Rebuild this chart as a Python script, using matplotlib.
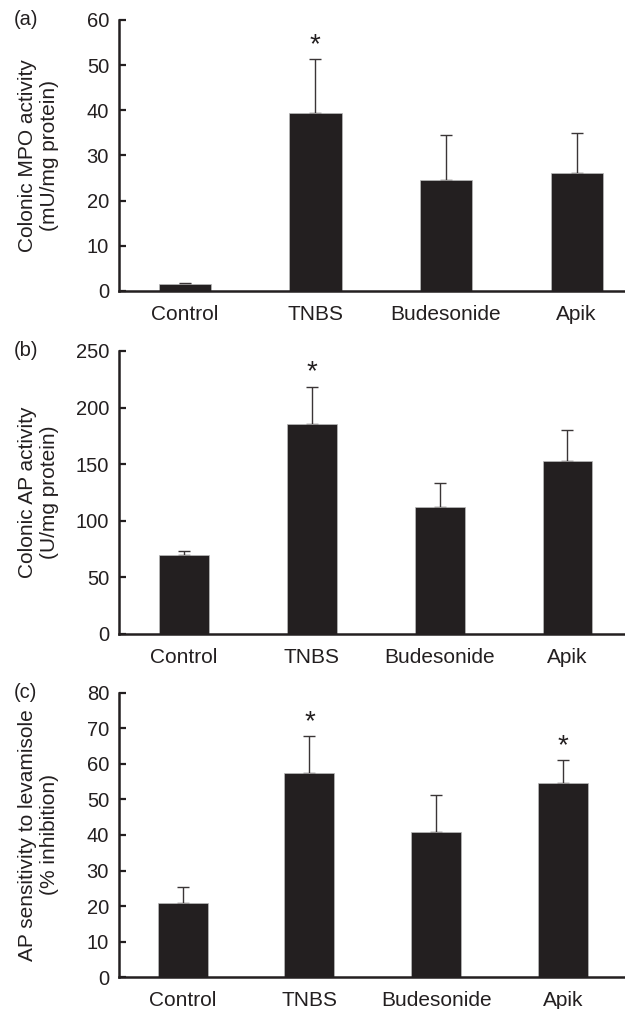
import matplotlib
matplotlib.use("Agg")
import matplotlib.pyplot as plt

plt.rcParams['font.family'] = ['Liberation Sans', 'DejaVu Sans']

groups = ["Control", "TNBS", "Budesonide", "Apik"]

# (a) colonic MPO activity
mpo_mean = [1.6, 39.4, 24.6, 26.2]
mpo_sem = [0.2, 12.0, 10.0, 8.8]
mpo_star = [False, True, False, False]

# (b) colonic AP activity
ap_mean = [70, 185.5, 112, 153]
ap_sem = [3, 33, 21, 27.5]
ap_star = [False, True, False, False]

# (c) AP sensitivity to levamisole
lev_mean = [20.8, 57.4, 40.8, 54.6]
lev_sem = [4.6, 10.5, 10.4, 6.6]
lev_star = [False, True, False, True]

dark = '#231f20'

panels = [
    ("(a)", mpo_mean, mpo_sem, mpo_star, [0, 10, 20, 30, 40, 50, 60],
     "Colonic MPO activity\n(mU/mg protein)", (-0.505, 3.37), 0.40,
     [0.190, 0.7116, 0.810, 0.2686]),
    ("(b)", ap_mean, ap_sem, ap_star, [0, 50, 100, 150, 200, 250],
     "Colonic AP activity\n(U/mg protein)", (-0.51, 3.45), 0.39,
     [0.190, 0.3717, 0.810, 0.2805]),
    ("(c)", lev_mean, lev_sem, lev_star, [0, 10, 20, 30, 40, 50, 60, 70, 80],
     "AP sensitivity to levamisole\n(% inhibition)", (-0.505, 3.49), 0.395,
     [0.190, 0.0317, 0.810, 0.2815]),
]

fig = plt.figure(figsize=(6.25, 10.09), dpi=100)

for tag, mean, sem, star, yticks, ylabel, xlim, width, rect in panels:
    ax = fig.add_axes(rect)
    x = list(range(len(groups)))
    ax.bar(x, mean, width=width, color=dark, edgecolor='#bbbbbb', linewidth=0.5, zorder=2)
    ax.errorbar(x, mean, yerr=[[0] * len(sem), sem], fmt='none', ecolor='#3a3536',
                elinewidth=1.0, capsize=4, capthick=1.0, zorder=1)
    for xi, m, s, st in zip(x, mean, sem, star):
        if st:
            ax.annotate('*', xy=(xi, m + s), xytext=(0, 10), textcoords='offset points',
                        ha='center', va='center', fontsize=20, color=dark)
    ax.set_xlim(*xlim)
    ax.set_ylim(yticks[0], yticks[-1])
    ax.set_yticks(yticks)
    ax.set_xticks(x)
    ax.set_xticklabels(groups, fontsize=15, color=dark)
    ax.tick_params(axis='x', length=0, pad=10)
    ax.tick_params(axis='y', direction='in', length=5, width=1.6, pad=7,
                   labelsize=14.5, colors=dark)
    for side in ['top', 'right']:
        ax.spines[side].set_visible(False)
    for side in ['left', 'bottom']:
        ax.spines[side].set_linewidth(1.8)
        ax.spines[side].set_color(dark)
    top = rect[1] + rect[3]
    fig.text(0.022, top, tag, fontsize=14.5, color=dark, ha='left', va='center')
    fig.text(0.061, rect[1] + rect[3] / 2, ylabel, rotation=90, fontsize=15,
             color=dark, ha='center', va='center', multialignment='center',
             linespacing=1.2)

fig.savefig("out.png", dpi=100)
